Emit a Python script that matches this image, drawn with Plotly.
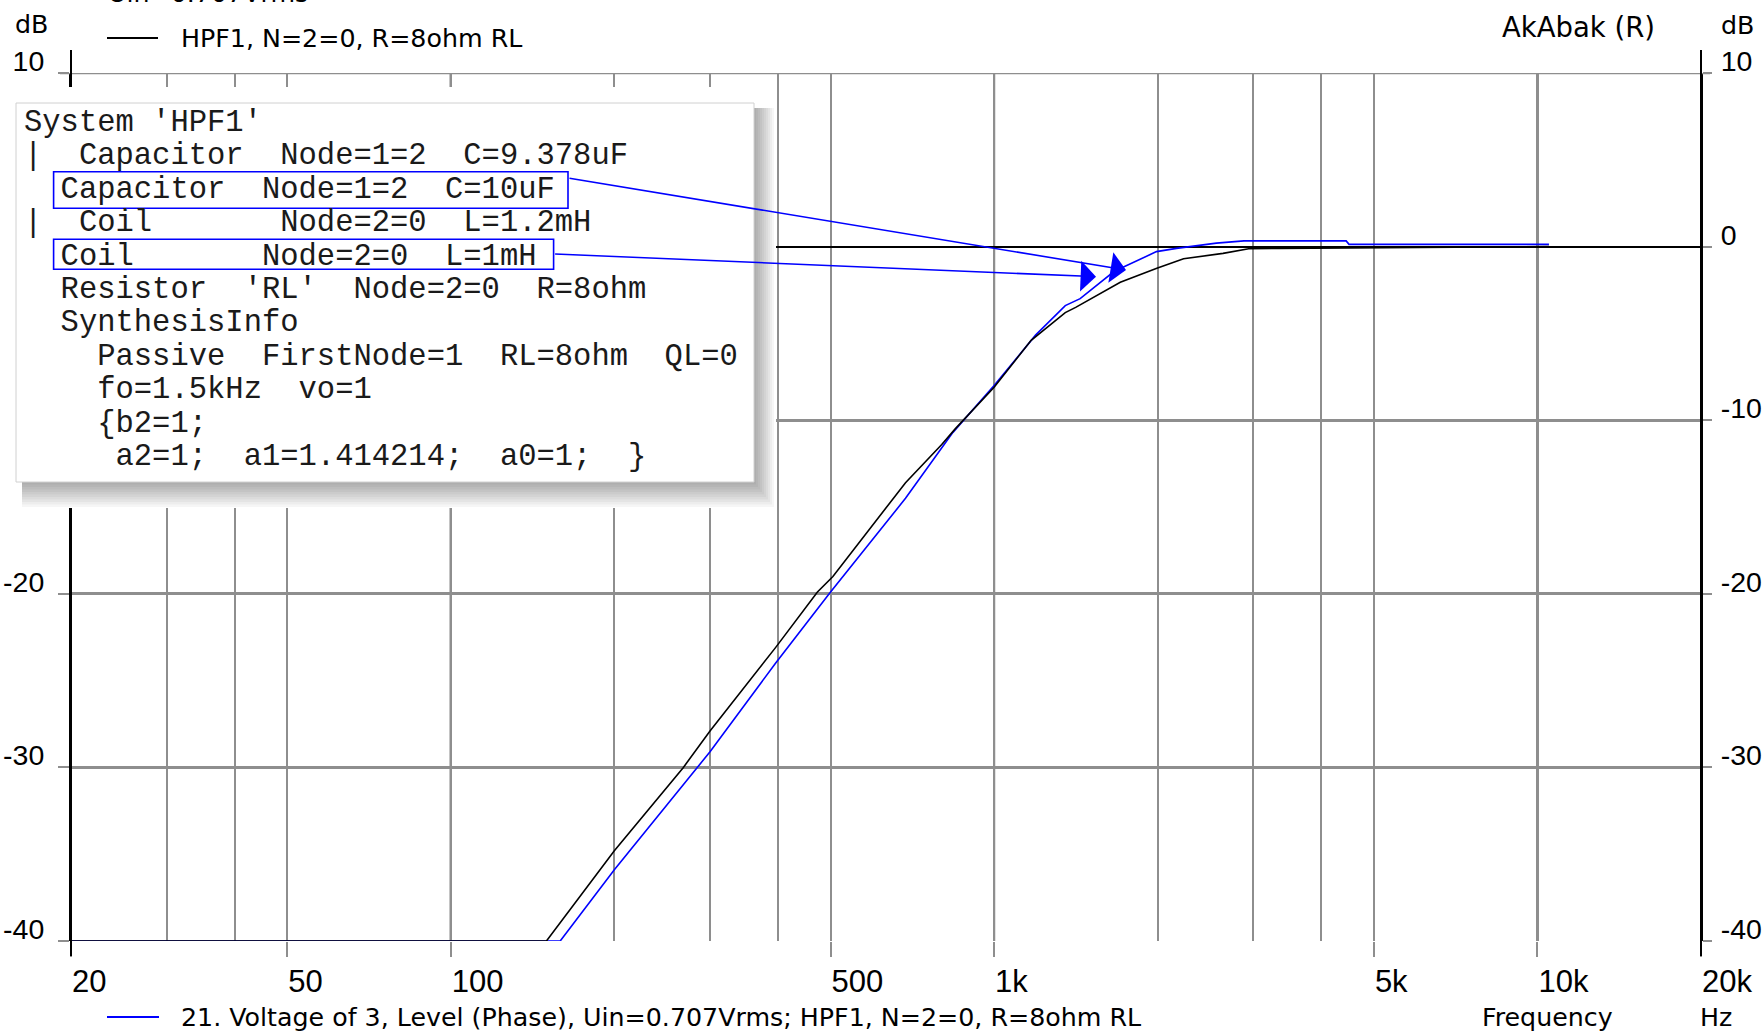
import plotly.graph_objects as go

# ---------------- data ----------------
freq_black = [20, 150, 200, 268, 300, 396, 473, 505, 687, 801, 848, 1000, 1170,
              1352, 1413, 1707, 1993, 2232, 2638, 2941, 3340, 10500]
db_black = [-40.0, -40.0, -34.8, -30.0, -27.9, -23.1, -19.9, -19.0, -13.6, -11.4,
            -10.5, -8.1, -5.4, -3.8, -3.5, -2.05, -1.25, -0.7, -0.39, -0.12, -0.1, 0.0]

freq_blue = [20, 159, 200, 300, 396, 500, 687, 840, 1000, 1192, 1352, 1440, 1675,
             1707, 1990, 2166, 2565, 2883, 4446, 4500, 10500]
db_blue = [-40.0, -40.0, -35.9, -29.1, -24.0, -19.9, -14.5, -10.7, -8.0, -5.1, -3.4,
           -3.0, -1.35, -1.26, -0.29, -0.1, 0.2, 0.33, 0.33, 0.13, 0.13]

x_tick_vals = [20, 50, 100, 500, 1000, 5000, 10000, 20000]
x_tick_text = ["20", "50", "100", "500", "1k", "5k", "10k", "20k"]
x_minor_vals = [30, 40, 200, 300, 400, 2000, 3000, 4000]
x_black_grid = [100, 1000, 10000]
y_tick_vals = [-40, -30, -20, -10, 0, 10]
y_tick_text_left = ["-40", "-30", "-20", "", "", "10"]   # 0 and -10 hidden by the popup
y_tick_text_right = ["-40", "-30", "-20", "-10", "0", "10"]

name_black = "HPF1, N=2=0, R=8ohm RL"
name_blue = "21. Voltage of 3, Level (Phase), Uin=0.707Vrms; HPF1, N=2=0, R=8ohm RL"
top_fragment = "Uin=0.707Vrms"

netlist_lines = [
    "System 'HPF1'",
    "|  Capacitor  Node=1=2  C=9.378uF",
    "  Capacitor  Node=1=2  C=10uF",
    "|  Coil       Node=2=0  L=1.2mH",
    "  Coil       Node=2=0  L=1mH",
    "  Resistor  'RL'  Node=2=0  R=8ohm",
    "  SynthesisInfo",
    "    Passive  FirstNode=1  RL=8ohm  QL=0",
    "    fo=1.5kHz  vo=1",
    "    {b2=1;",
    "     a2=1;  a1=1.414214;  a0=1;  }",
]

# ---------------- geometry (pixels) ----------------
W, H = 1764, 1032
PL, PR, PT, PB = 71, 1701, 73, 941


def fx(p):
    return (p - PL) / (PR - PL)


def fy(p):
    return (PB - p) / (PB - PT)


SANS = "DejaVu Sans"
TICKF = "Liberation Sans"
MONO = "Liberation Mono"
GRID = "#8e8e8e"
BLUE = "#0000ff"

fig = go.Figure()
fig.add_trace(go.Scatter(x=freq_blue, y=db_blue, mode="lines", name=name_blue,
                         line=dict(color=BLUE, width=1.6), yaxis="y", showlegend=False))
fig.add_trace(go.Scatter(x=freq_black, y=db_black, mode="lines", name=name_black,
                         line=dict(color="#000000", width=1.6), yaxis="y2", showlegend=False))

shapes = []
# black major vertical grid lines
for v in x_black_grid:
    shapes.append(dict(type="line", xref="x", yref="paper", x0=v, x1=v, y0=0, y1=1,
                       line=dict(color="#000000", width=2), layer="between"))
# top (10 dB) grid line, extended like the others
shapes.append(dict(type="line", xref="paper", yref="y", x0=fx(60), x1=fx(1710), y0=10, y1=10,
                   line=dict(color=GRID, width=2.5), layer="above"))
# axis lines extending above/below plot
for xp in (0, 1):
    shapes.append(dict(type="line", xref="paper", yref="paper", x0=xp, x1=xp,
                       y0=fy(PB + 15), y1=fy(PT - 23),
                       line=dict(color="#000000", width=2), layer="above"))

# popup cover + shadow + box
bx0, by0, bx1, by1 = 16, 103, 754, 482
shapes.append(dict(type="rect", xref="paper", yref="paper", x0=fx(0), x1=fx(776),
                   y0=fy(508), y1=fy(87), fillcolor="#ffffff", line=dict(width=0), layer="above"))
for i in range(1, 11):
    shapes.append(dict(type="rect", xref="paper", yref="paper",
                       x0=fx(bx0 + 6), x1=fx(bx1 + 2 * i),
                       y0=fy(by1 + 2.5 * i), y1=fy(by0 + 5),
                       fillcolor="rgba(0,0,0,0.035)", line=dict(width=0), layer="above"))
shapes.append(dict(type="rect", xref="paper", yref="paper", x0=fx(bx0), x1=fx(bx1),
                   y0=fy(by1), y1=fy(by0), fillcolor="#ffffff",
                   line=dict(color="#d0d0d0", width=1), layer="above"))
# blue highlight boxes
for (x0, y0, x1, y1) in [(53.6, 171.7, 568, 208.3), (53.6, 239.3, 553.6, 269.3)]:
    shapes.append(dict(type="rect", xref="paper", yref="paper", x0=fx(x0), x1=fx(x1),
                       y0=fy(y1), y1=fy(y0), fillcolor="rgba(0,0,0,0)",
                       line=dict(color=BLUE, width=1.6), layer="above"))
# legend sample lines
shapes.append(dict(type="line", xref="paper", yref="paper", x0=fx(107), x1=fx(158),
                   y0=fy(38), y1=fy(38), line=dict(color="#000000", width=2), layer="above"))
shapes.append(dict(type="line", xref="paper", yref="paper", x0=fx(107), x1=fx(159),
                   y0=fy(1017), y1=fy(1017), line=dict(color=BLUE, width=2), layer="above"))

ann = []


def text(px, py, s, size=25.3, family=SANS, anchor="left", color="#000000"):
    ann.append(dict(xref="paper", yref="paper", x=fx(px), y=fy(py), text=s,
                    showarrow=False, xanchor=anchor, yanchor="middle",
                    font=dict(family=family, size=size, color=color), borderpad=0))


text(107, -6, top_fragment)
text(180, 38, name_black)
text(180, 1017, name_blue)
text(14, 24, "dB")
text(1720, 25, "dB")
text(1501, 27, "AkAbak (R)", size=27.5)
text(1481, 1017, "Frequency")
text(1699, 1017, "Hz")

for i, line in enumerate(netlist_lines):
    text(22.5, 123 + 33.4 * i, line.replace(" ", "\u00a0"), size=30.5, family=MONO,
         color="#1a1a1a")

# arrows from highlighted lines to the curves
for (tx, ty, sx, sy) in [(1126, 270, 568, 178), (1096, 276.7, 553.6, 254)]:
    ann.append(dict(xref="paper", yref="paper", x=fx(tx), y=fy(ty), text="",
                    showarrow=True, axref="pixel", ayref="pixel", ax=sx - tx, ay=sy - ty,
                    arrowhead=1, arrowsize=3.2, arrowwidth=1.6, arrowcolor=BLUE,
                    standoff=0, startstandoff=0))

fig.update_layout(
    width=W, height=H,
    margin=dict(l=PL, r=W - PR, t=PT, b=H - PB, pad=0, autoexpand=False),
    paper_bgcolor="#ffffff", plot_bgcolor="#ffffff",
    showlegend=False, hovermode=False,
    shapes=shapes, annotations=ann,
    xaxis=dict(type="log", range=[1.30103, 4.30103], tickmode="array",
               tickvals=x_tick_vals, ticktext=x_tick_text,
               ticks="outside", ticklen=15, tickwidth=2, tickcolor=GRID,
               ticklabelposition="outside right", ticklabelstandoff=13,
               tickfont=dict(family=TICKF, size=31, color="#000000"),
               showgrid=True, gridcolor=GRID, gridwidth=2,
               minor=dict(tickmode="array", tickvals=x_minor_vals, showgrid=True,
                          gridcolor=GRID, gridwidth=2, ticks=""),
               showline=False, zeroline=False, fixedrange=True, automargin=False),
    yaxis=dict(range=[-40, 10], tickmode="array", tickvals=y_tick_vals,
               ticktext=y_tick_text_left,
               ticks="outside", ticklen=11, tickwidth=2, tickcolor=GRID,
               ticklabelstandoff=8, ticklabelshift=-12,
               tickfont=dict(family=TICKF, size=28.5, color="#000000"),
               showgrid=True, gridcolor=GRID, gridwidth=2.5,
               zeroline=True, zerolinecolor="#000000", zerolinewidth=2,
               showline=True, linecolor="#000000", linewidth=2, fixedrange=True,
               automargin=False),
    yaxis2=dict(range=[-40, 10], overlaying="y", side="right", tickmode="array",
                tickvals=y_tick_vals, ticktext=y_tick_text_right,
                ticks="outside", ticklen=9, tickwidth=2, tickcolor=GRID,
                ticklabelstandoff=3, ticklabelshift=-12,
                tickfont=dict(family=TICKF, size=28.5, color="#000000"),
                showgrid=False, zeroline=False,
                showline=True, linecolor="#000000", linewidth=2, fixedrange=True,
                automargin=False),
)

fig.write_html("out.html", config={"displayModeBar": False},
               post_script="document.body.style.margin='0';document.body.style.overflow='hidden';")
